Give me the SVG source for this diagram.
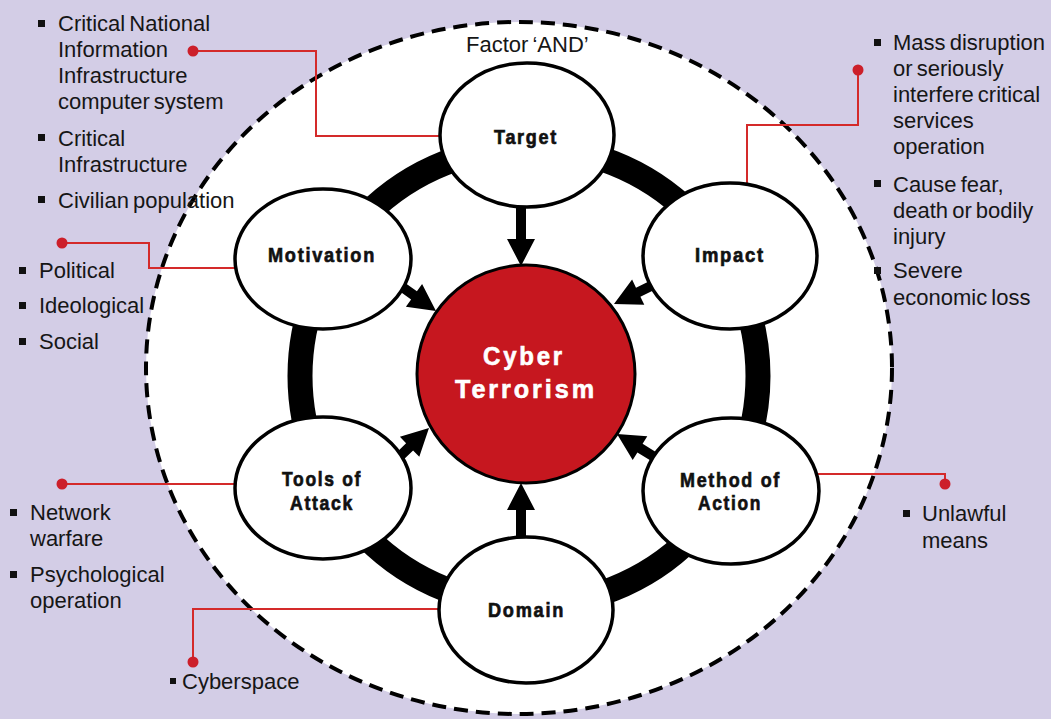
<svg xmlns="http://www.w3.org/2000/svg" width="1051" height="719" viewBox="0 0 1051 719">
<style>
.bg{fill:#d3cde6}
.frame{fill:#fff;stroke:#000;stroke-width:4;stroke-dasharray:14 8}
.ring{fill:none;stroke:#000;stroke-width:25}
.arrow{fill:#000}
.lead{fill:none;stroke:#d42a2a;stroke-width:2}
.dot{fill:#cc1f2a}
.node{fill:#fff;stroke:#000;stroke-width:3.5}
.core{fill:#c6171f;stroke:#000;stroke-width:3}
.lbl{font-family:"Liberation Sans",Arial,sans-serif;font-weight:bold;font-size:21px;letter-spacing:2px;fill:#111;stroke:#111;stroke-width:0.7}
.corelbl{font-family:"Liberation Sans",Arial,sans-serif;font-weight:bold;font-size:26px;letter-spacing:3px;fill:#fff;stroke:#fff;stroke-width:0.6}
.txt{font-family:"Liberation Sans",Arial,sans-serif;font-size:22px;fill:#161616;word-spacing:-2px}
.bul{fill:#111}
</style>
<rect class="bg" x="0" y="0" width="1051" height="719"/>
<ellipse class="frame" cx="519" cy="368" rx="373" ry="346"/>
<text class="txt" x="466" y="52">Factor ‘AND’</text>

<g id="connectors">
  <circle class="ring" cx="529" cy="376" r="229"/>
  <polygon class="arrow" points="516,205 526,205 526,239 535,239 521,266 507,239 516,239"/>
  <polygon class="arrow" points="516,539 526,539 526,510 535,510 521,483 507,510 516,510"/>
  <polygon class="arrow" points="659.2,287.5 640.4,296.7 644.3,304.8 614,304 632.1,279.6 636,287.7 654.8,278.5"/>
  <polygon class="arrow" points="395.1,288.1 411.1,299.5 405.9,306.8 436,311 422.1,284 416.9,291.3 400.9,279.9"/>
  <polygon class="arrow" points="399.5,463.6 413.1,450.4 419.3,456.8 429,428 399.9,436.8 406.1,443.2 392.5,456.4"/>
  <polygon class="arrow" points="658.6,453.7 642.6,443.8 647.3,436.2 617,434 632.7,460 637.4,452.4 653.4,462.3"/>
  <polyline class="lead" points="441,136 316,136 316,51 193,51"/>
  <circle class="dot" cx="193" cy="51" r="5.5"/>
  <polyline class="lead" points="747,183 747,125 858,125 858,70"/>
  <circle class="dot" cx="858" cy="70" r="5.5"/>
  <polyline class="lead" points="236,268 149,268 149,243 62,243"/>
  <circle class="dot" cx="62" cy="243" r="5.5"/>
  <polyline class="lead" points="236,484 62,484"/>
  <circle class="dot" cx="62" cy="484" r="5.5"/>
  <polyline class="lead" points="440,609 193,609 193,662"/>
  <circle class="dot" cx="193" cy="662" r="5.5"/>
  <polyline class="lead" points="818,474 945,474 945,484"/>
  <circle class="dot" cx="945" cy="484" r="5.5"/>
</g>

<g id="target">
  <ellipse class="node" cx="527" cy="135" rx="87" ry="72"/>
  <text class="lbl" x="494" y="144" textLength="64" lengthAdjust="spacingAndGlyphs">Target</text>
</g>
<g id="impact">
  <ellipse class="node" cx="730" cy="256" rx="87" ry="73"/>
  <text class="lbl" x="695" y="262" textLength="70" lengthAdjust="spacingAndGlyphs">Impact</text>
</g>
<g id="method">
  <ellipse class="node" cx="731" cy="491" rx="88" ry="73"/>
  <text class="lbl" x="680" y="487" textLength="101" lengthAdjust="spacingAndGlyphs">Method of</text>
  <text class="lbl" x="698" y="510" textLength="64" lengthAdjust="spacingAndGlyphs">Action</text>
</g>
<g id="domain">
  <ellipse class="node" cx="526" cy="610" rx="87" ry="73"/>
  <text class="lbl" x="488" y="617" textLength="77" lengthAdjust="spacingAndGlyphs">Domain</text>
</g>
<g id="tools">
  <ellipse class="node" cx="323" cy="488" rx="88" ry="71"/>
  <text class="lbl" x="282" y="486" textLength="80" lengthAdjust="spacingAndGlyphs">Tools of</text>
  <text class="lbl" x="290" y="510" textLength="64" lengthAdjust="spacingAndGlyphs">Attack</text>
</g>
<g id="motivation">
  <ellipse class="node" cx="323" cy="259" rx="88" ry="70"/>
  <text class="lbl" x="268" y="262" textLength="108" lengthAdjust="spacingAndGlyphs">Motivation</text>
</g>
<g id="cyber">
  <circle class="core" cx="526" cy="374" r="109"/>
  <text class="corelbl" x="483" y="365" textLength="82" lengthAdjust="spacingAndGlyphs">Cyber</text>
  <text class="corelbl" x="455" y="398" textLength="142" lengthAdjust="spacingAndGlyphs">Terrorism</text>
</g>

<g id="target-notes">
  <rect class="bul" x="38" y="20" width="7" height="7"/>
  <text class="txt" x="58" y="31">Critical National</text>
  <text class="txt" x="58" y="57">Information</text>
  <text class="txt" x="58" y="83">Infrastructure</text>
  <text class="txt" x="58" y="109">computer system</text>
  <rect class="bul" x="38" y="134" width="7" height="7"/>
  <text class="txt" x="58" y="146">Critical</text>
  <text class="txt" x="58" y="172">Infrastructure</text>
  <rect class="bul" x="38" y="196" width="7" height="7"/>
  <text class="txt" x="58" y="208">Civilian population</text>
</g>
<g id="impact-notes">
  <rect class="bul" x="874" y="39" width="7" height="7"/>
  <text class="txt" x="893" y="50">Mass disruption</text>
  <text class="txt" x="893" y="76">or seriously</text>
  <text class="txt" x="893" y="102">interfere critical</text>
  <text class="txt" x="893" y="128">services</text>
  <text class="txt" x="893" y="154">operation</text>
  <rect class="bul" x="874" y="180" width="7" height="7"/>
  <text class="txt" x="893" y="192">Cause fear,</text>
  <text class="txt" x="893" y="218">death or bodily</text>
  <text class="txt" x="893" y="244">injury</text>
  <rect class="bul" x="874" y="267" width="7" height="7"/>
  <text class="txt" x="893" y="278">Severe</text>
  <text class="txt" x="893" y="305">economic loss</text>
</g>
<g id="motivation-notes">
  <rect class="bul" x="19" y="267" width="7" height="7"/>
  <text class="txt" x="39" y="278">Political</text>
  <rect class="bul" x="19" y="302" width="7" height="7"/>
  <text class="txt" x="39" y="313">Ideological</text>
  <rect class="bul" x="19" y="338" width="7" height="7"/>
  <text class="txt" x="39" y="349">Social</text>
</g>
<g id="tools-notes">
  <rect class="bul" x="10" y="509" width="7" height="7"/>
  <text class="txt" x="30" y="520">Network</text>
  <text class="txt" x="30" y="546">warfare</text>
  <rect class="bul" x="10" y="571" width="7" height="7"/>
  <text class="txt" x="30" y="582">Psychological</text>
  <text class="txt" x="30" y="608">operation</text>
</g>
<g id="domain-notes">
  <rect class="bul" x="170" y="678" width="6" height="6"/>
  <text class="txt" x="182" y="689">Cyberspace</text>
</g>
<g id="method-notes">
  <rect class="bul" x="903" y="510" width="7" height="7"/>
  <text class="txt" x="922" y="521">Unlawful</text>
  <text class="txt" x="922" y="548">means</text>
</g>
</svg>
